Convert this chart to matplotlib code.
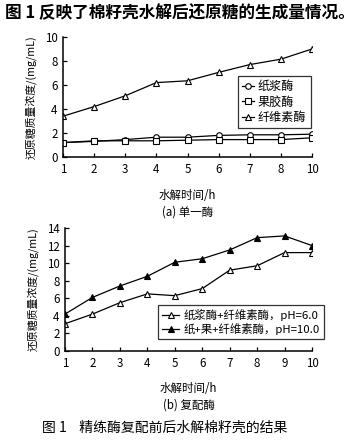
import matplotlib.pyplot as plt

plt.rcParams['font.family'] = ['Noto Sans CJK SC', 'DejaVu Sans']

# (a) 单一酶
hours_a = ['1', '2', '3', '4', '5', '6', '7', '8', '10']
zhijiang_a = [1.2, 1.3, 1.45, 1.65, 1.65, 1.8, 1.85, 1.85, 1.9]
guojiao_a = [1.2, 1.35, 1.35, 1.35, 1.4, 1.45, 1.45, 1.45, 1.6]
xianwei_a = [3.4, 4.2, 5.1, 6.2, 6.35, 7.05, 7.7, 8.15, 9.0]

# (b) 复配酶
hours_b = ['1', '2', '3', '4', '5', '6', '7', '8', '9', '10']
mix_ph6 = [3.1, 4.2, 5.5, 6.5, 6.3, 7.1, 9.2, 9.7, 11.2, 11.2]
mix_ph10 = [4.2, 6.1, 7.4, 8.5, 10.1, 10.5, 11.5, 12.9, 13.1, 12.0]

W, H = 359, 442
fig = plt.figure(figsize=(W / 100, H / 100), dpi=100)


def px_axes(left, right, top, bottom):
    return fig.add_axes([left / W, 1 - bottom / H, (right - left) / W, (bottom - top) / H])


def style(ax):
    for s in ['top', 'right']:
        ax.spines[s].set_visible(False)
    for s in ['left', 'bottom']:
        ax.spines[s].set_linewidth(1.1)
    ax.tick_params(direction='in', length=3, width=0.9, labelsize=8.3, pad=4)
    ax.set_ylabel('还原糖质量浓度/(mg/mL)', fontsize=7.8, labelpad=6)


mk = dict(color='black', lw=0.9, markersize=4, markeredgewidth=0.8)

# 上图
ax1 = px_axes(63, 312, 37, 157)
xa = list(range(len(hours_a)))
ax1.plot(xa, zhijiang_a, marker='o', mfc='white', label='纸浆酶', **mk)
ax1.plot(xa, guojiao_a, marker='s', mfc='white', label='果胶酶', **mk)
ax1.plot(xa, xianwei_a, marker='^', mfc='white', label='纤维素酶', **mk)
ax1.set_xlim(0, len(hours_a) - 1)
ax1.set_ylim(0, 10)
ax1.set_xticks(xa)
ax1.set_xticklabels(hours_a)
ax1.set_yticks(range(0, 11, 2))
style(ax1)
ax1.set_xlabel('水解时间/h', fontsize=8.3, labelpad=10)
leg1 = ax1.legend(loc='upper left', bbox_to_anchor=((238 - 63) / 249, (157 - 76) / 120),
                  fontsize=8.7, frameon=True, fancybox=False, edgecolor='black',
                  handlelength=1.0, handletextpad=0.3, borderpad=0.35, labelspacing=0.2,
                  borderaxespad=0)
leg1.get_frame().set_linewidth(0.9)
fig.text((63 + 312) / 2 / W, 1 - 212 / H, '(a) 单一酶', ha='center', va='center', fontsize=8.3)

# 下图
ax2 = px_axes(65, 312, 228, 351)
xb = list(range(len(hours_b)))
ax2.plot(xb, mix_ph6, marker='^', mfc='white', label='纸浆酶+纤维素酶，pH=6.0', **mk)
ax2.plot(xb, mix_ph10, marker='^', mfc='black', label='纸+果+纤维素酶，pH=10.0', **mk)
ax2.set_xlim(0, len(hours_b) - 1)
ax2.set_ylim(0, 14)
ax2.set_xticks(xb)
ax2.set_xticklabels(hours_b)
ax2.set_yticks(range(0, 15, 2))
style(ax2)
ax2.set_xlabel('水解时间/h', fontsize=8.3, labelpad=9)
leg2 = ax2.legend(loc='upper left', bbox_to_anchor=((158 - 65) / 247, (351 - 305) / 123),
                  fontsize=8.2, frameon=True, fancybox=False, edgecolor='black',
                  handlelength=1.5, handletextpad=0.4, borderpad=0.35, labelspacing=0.2,
                  borderaxespad=0)
leg2.get_frame().set_linewidth(0.9)
fig.text((65 + 312) / 2 / W, 1 - 405 / H, '(b) 复配酶', ha='center', va='center', fontsize=8.3)

fig.text(5 / W, 1 - 13 / H, '图 1 反映了棉籽壳水解后还原糖的生成量情况。',
         ha='left', va='center', fontsize=12, fontweight='bold')
fig.text(42 / W, 1 - 428 / H, '图 1    精练酶复配前后水解棉籽壳的结果',
         ha='left', va='center', fontsize=10)

fig.savefig('out.png', dpi=100)
